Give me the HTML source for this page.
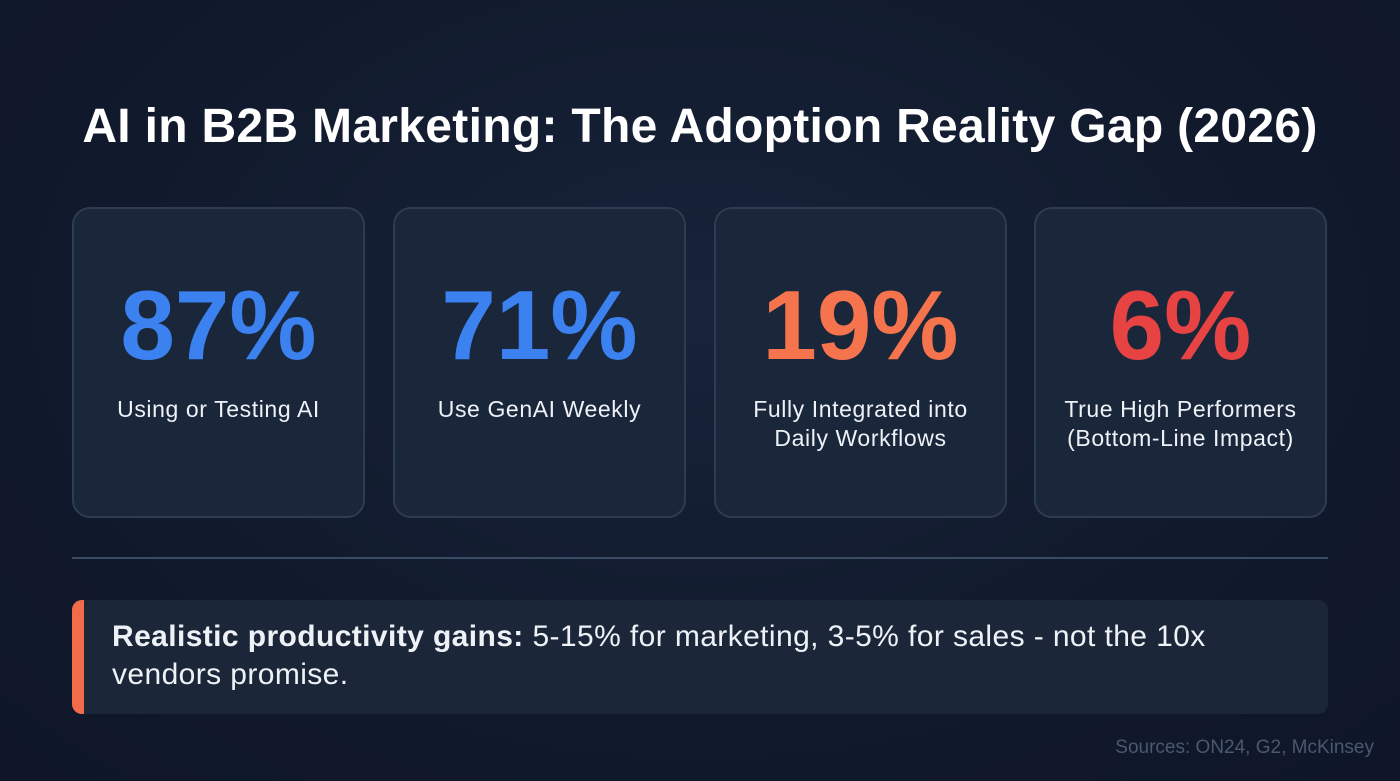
<!DOCTYPE html>
<html><head><meta charset="utf-8"><style>
*{margin:0;padding:0;box-sizing:border-box}
body{width:1400px;height:781px;overflow:hidden;background:radial-gradient(ellipse at 50% 40%,#18233a 0%,#111a2c 60%,#0e1627 100%);font-family:"Liberation Sans",sans-serif;color:#fff;position:relative}
h1{position:absolute;top:99px;left:0;width:1400px;text-align:center;font-size:48px;font-weight:bold;letter-spacing:0.3px;white-space:nowrap}
.card{position:absolute;top:207px;width:293px;height:311px;border:2px solid #2e3b51;border-radius:18px;background:#1a263a;text-align:center}
.num{position:absolute;top:68px;left:0;width:100%;font-size:98px;font-weight:bold;line-height:96px;letter-spacing:0}
.lbl{position:absolute;top:186px;left:0;width:100%;font-size:23px;line-height:29px;color:#eef2f7;letter-spacing:0.6px}
.div{position:absolute;left:72px;top:557px;width:1256px;height:2px;background:#3a4b63}
.box{position:absolute;left:72px;top:600px;width:1256px;height:114px;background:#1b2739;border-radius:10px;overflow:hidden}
.bar{position:absolute;left:0;top:0;width:12px;height:100%;background:#f26b4a}
.txt{position:absolute;left:40px;top:18px;width:1180px;font-size:30px;line-height:38px;color:#eef2f7;letter-spacing:0.4px}
.src{position:absolute;right:26px;top:737px;font-size:19px;color:#4a5870}
</style></head><body>
<h1>AI in B2B Marketing: The Adoption Reality Gap (2026)</h1>
<div class="card" style="left:72px"><div class="num" style="color:#3b82f0">87%</div><div class="lbl">Using or Testing AI</div></div>
<div class="card" style="left:393px"><div class="num" style="color:#3b82f0">71%</div><div class="lbl">Use GenAI Weekly</div></div>
<div class="card" style="left:714px"><div class="num" style="color:#f5734d">19%</div><div class="lbl">Fully Integrated into<br>Daily Workflows</div></div>
<div class="card" style="left:1034px"><div class="num" style="color:#e84343">6%</div><div class="lbl">True High Performers<br>(Bottom-Line Impact)</div></div>
<div class="div"></div>
<div class="box"><div class="bar"></div><div class="txt"><b>Realistic productivity gains:</b> 5-15% for marketing, 3-5% for sales - not the 10x<br>vendors promise.</div></div>
<div class="src">Sources: ON24, G2, McKinsey</div>
</body></html>
